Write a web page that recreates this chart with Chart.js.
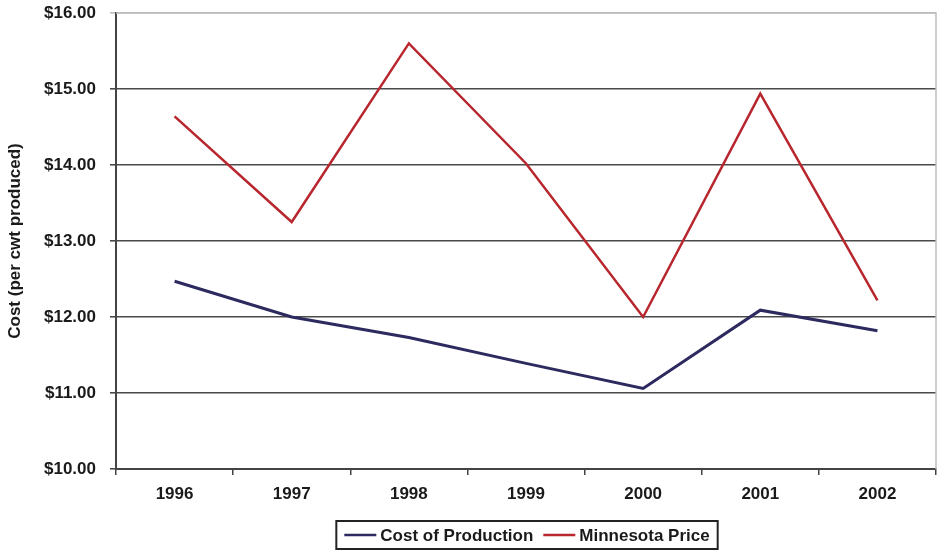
<!DOCTYPE html>
<html>
<head>
<meta charset="utf-8">
<script src="https://cdn.jsdelivr.net/npm/chart.js@4/dist/chart.umd.min.js"></script>
<style>
  html, body { margin: 0; padding: 0; background: #ffffff; }
  #wrap { width: 941px; height: 550px; position: relative; }
</style>
</head>
<body>
<div id="wrap"><canvas id="c" width="941" height="550"></canvas></div>
<script>
// Years on the horizontal axis
const years = ['1996', '1997', '1998', '1999', '2000', '2001', '2002'];
// Cost of production, $ per cwt
const costOfProduction = [12.47, 12.00, 11.73, 11.39, 11.06, 12.09, 11.82];
// Minnesota milk price, $ per cwt
const minnesotaPrice = [14.64, 13.25, 15.60, 14.02, 12.00, 14.94, 12.22];
// Axis settings
const yMin = 10, yMax = 16, yStep = 1;
const yTitle = 'Cost (per cwt produced)';

const FONT = 'Arial, "Liberation Sans", sans-serif';

// Frame: light top/right border of the plot area
const frame = {
  id: 'frame',
  beforeDatasetsDraw(chart) {
    const { ctx, chartArea: a } = chart;
    ctx.save();
    ctx.strokeStyle = '#bdbdbd';
    ctx.lineWidth = 1.5;
    ctx.beginPath();
    ctx.moveTo(a.left, a.top);
    ctx.lineTo(a.right, a.top);
    ctx.lineTo(a.right, a.bottom);
    ctx.stroke();
    ctx.restore();
  }
};

// Boxed legend centred under the x axis
const boxLegend = {
  id: 'boxLegend',
  afterDraw(chart) {
    const { ctx } = chart;
    const sets = chart.data.datasets;
    ctx.save();
    ctx.font = 'bold 17px ' + FONT;
    const lineLen = 32, gap = 4, itemGap = 10, padX = 8;
    let total = padX * 2;
    const widths = sets.map(d => ctx.measureText(d.label).width);
    widths.forEach((w, i) => { total += lineLen + gap + w + (i ? itemGap : 0); });
    const cx = 527, top = 521, h = 28;
    let x = cx - total / 2;
    ctx.strokeStyle = '#222';
    ctx.lineWidth = 2;
    ctx.strokeRect(x, top, total, h);
    x += padX;
    const my = top + h / 2;
    ctx.textBaseline = 'middle';
    ctx.fillStyle = '#1a1a1a';
    sets.forEach((d, i) => {
      if (i) x += itemGap;
      ctx.strokeStyle = d.borderColor;
      ctx.lineWidth = 2.5;
      ctx.beginPath();
      ctx.moveTo(x, my);
      ctx.lineTo(x + lineLen, my);
      ctx.stroke();
      x += lineLen + gap;
      ctx.fillText(d.label, x, my + 1);
      x += widths[i];
    });
    ctx.restore();
  }
};

new Chart(document.getElementById('c'), {
  type: 'line',
  data: {
    labels: years,
    datasets: [
      {
        label: 'Cost of Production',
        data: costOfProduction,
        borderColor: '#2c2a5e',
        borderWidth: 3,
        pointRadius: 0,
        tension: 0,
        fill: false
      },
      {
        label: 'Minnesota Price',
        data: minnesotaPrice,
        borderColor: '#b8262e',
        borderWidth: 2.5,
        pointRadius: 0,
        tension: 0,
        fill: false
      }
    ]
  },
  options: {
    responsive: false,
    animation: false,
    devicePixelRatio: 1,
    layout: { padding: { top: 13, right: 5, bottom: 31, left: 0 } },
    plugins: {
      legend: { display: false },
      tooltip: { enabled: false }
    },
    scales: {
      x: {
        type: 'category',
        offset: true,
        afterFit(scale) { scale.height = 50; },
        grid: {
          offset: true,
          drawOnChartArea: false,
          drawTicks: true,
          tickLength: 6,
          color: '#444',
          lineWidth: 1.5
        },
        border: { color: '#444', width: 2 },
        ticks: {
          color: '#1a1a1a',
          font: { family: FONT, size: 17, weight: 'bold' },
          padding: 9,
          maxRotation: 0
        }
      },
      y: {
        min: yMin,
        max: yMax,
        afterFit(scale) {
          scale.width = 116;
          // let the top label overflow into the page margin
          scale.paddingTop = 0;
          scale.paddingBottom = 0;
        },
        grid: {
          color: ctx => (ctx.tick && ctx.tick.value === yMax) ? '#bdbdbd' : '#4a4a4a',
          lineWidth: 1.6,
          tickLength: 6,
          drawTicks: true
        },
        border: { color: '#444', width: 2 },
        ticks: {
          stepSize: yStep,
          color: '#1a1a1a',
          padding: 14,
          font: { family: FONT, size: 17, weight: 'bold' },
          callback: v => '$' + Number(v).toFixed(2)
        },
        title: {
          display: true,
          text: yTitle,
          color: '#1a1a1a',
          font: { family: FONT, size: 17, weight: 'bold' },
          padding: { top: 5, bottom: 0 }
        }
      }
    }
  },
  plugins: [frame, boxLegend]
});
</script>
</body>
</html>
